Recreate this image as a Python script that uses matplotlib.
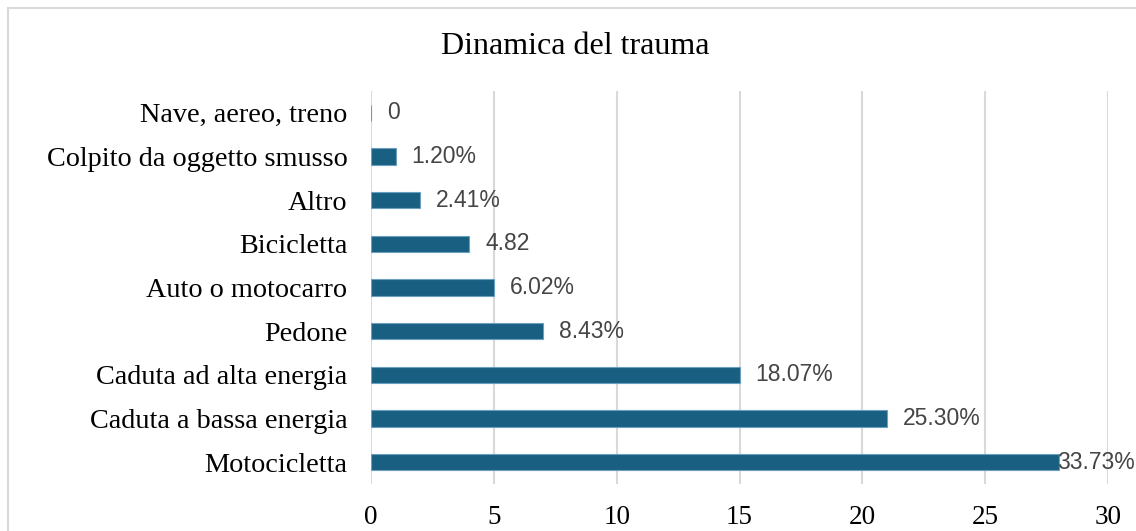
import matplotlib.pyplot as plt
from matplotlib.patches import Rectangle

# --- data (bottom to top) ---
categories = ['Motocicletta', 'Caduta a bassa energia', 'Caduta ad alta energia',
              'Pedone', 'Auto o motocarro', 'Bicicletta', 'Altro',
              'Colpito da oggetto smusso', 'Nave, aereo, treno']
counts = [28, 21, 15, 7, 5, 4, 2, 1, 0]
labels = ['33.73%', '25.30%', '18.07%', '8.43%', '6.02%', '4.82', '2.41%', '1.20%', '0']
xticks = [0, 5, 10, 15, 20, 25, 30]

W, H = 1136, 531
fig = plt.figure(figsize=(W / 100, H / 100), dpi=100)
ax = fig.add_axes([371 / W, 1 - 484 / H, (1108 - 371) / W, (484 - 91) / H])

serif = ['Liberation Serif', 'DejaVu Serif']
sans = ['Liberation Sans', 'DejaVu Sans']

ypos = list(range(len(categories)))
ax.barh(ypos, counts, height=0.37, color='#185f82', edgecolor='#6a9fc0',
        linewidth=0.8, zorder=3)

# data labels
for y, v, lab in zip(ypos, counts, labels):
    off = 11.5 if v < 27 else -1.5
    ax.annotate(lab, (v, y), xytext=(off, 0), textcoords='offset points',
                va='center', ha='left', fontsize=16.5, color='#454545',
                family=sans, zorder=4)

ax.set_xlim(0, 30)
ax.set_ylim(-0.5, len(categories) - 0.5)
ax.set_xticks(xticks)
ax.set_xticklabels([str(t) for t in xticks], family=serif, fontsize=19.5)
ax.set_yticks(ypos)
ax.set_yticklabels(categories, family=serif, fontsize=20.3)
ax.tick_params(axis='both', length=0, colors='black')
ax.tick_params(axis='x', pad=15)
ax.tick_params(axis='y', pad=17)
ax.xaxis.grid(True, color='#d9d9d9', linewidth=1.5, zorder=0)
for s in ax.spines.values():
    s.set_visible(False)

fig.text(575 / W, 1 - 47 / H, 'Dinamica del trauma', ha='center', va='center',
         family=serif, fontsize=23)

# outer chart border (only top/left visible in the crop)
fig.patches.append(Rectangle((8 / W, -0.1), 1.2, 1 - 8 / H + 0.1,
                             transform=fig.transFigure, fill=False,
                             edgecolor='#d9d9d9', linewidth=1.5))

fig.savefig('out.png', dpi=100)
